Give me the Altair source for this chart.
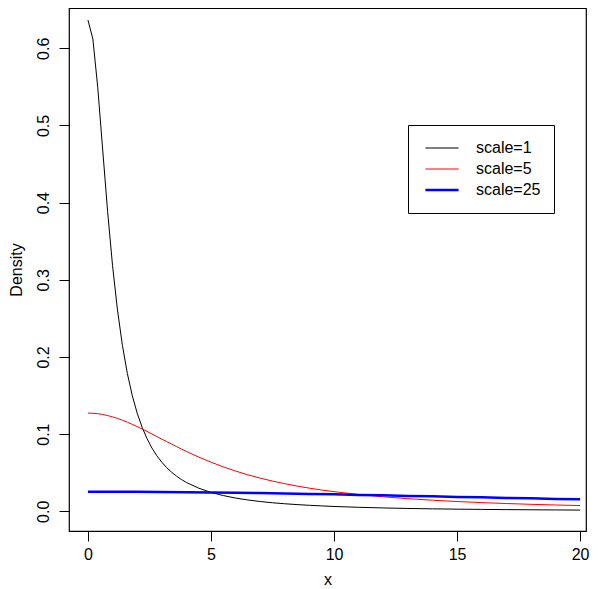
import altair as alt
import pandas as pd

# x positions
x_fine = [0, 0.2, 0.4, 0.6, 0.8, 1.0, 1.2, 1.4, 1.6, 1.8, 2.0, 2.2, 2.4, 2.6, 2.8,
          3.0, 3.2, 3.4, 3.6, 3.8, 4.0, 4.5, 5, 5.5, 6, 6.5, 7, 7.5, 8, 8.5, 9,
          9.5, 10, 11, 12, 13, 14, 15, 16, 17, 18, 19, 20]
scale1 = [0.6366, 0.6121, 0.5488, 0.4681, 0.3882, 0.3183, 0.2609, 0.2151, 0.1788,
          0.1501, 0.1273, 0.1090, 0.0942, 0.0820, 0.0720, 0.0637, 0.0566, 0.0507,
          0.0456, 0.0412, 0.0374, 0.0300, 0.0245, 0.0204, 0.0172, 0.0147, 0.0127,
          0.0111, 0.0098, 0.0087, 0.0078, 0.0070, 0.0063, 0.0052, 0.0044, 0.0037,
          0.0032, 0.0028, 0.0025, 0.0022, 0.0020, 0.0018, 0.0016]
scale5 = [0.1273, 0.1271, 0.1265, 0.1255, 0.1241, 0.1224, 0.1204, 0.1181, 0.1155,
          0.1127, 0.1098, 0.1067, 0.1035, 0.1002, 0.0969, 0.0936, 0.0903, 0.0871,
          0.0839, 0.0807, 0.0776, 0.0703, 0.0637, 0.0576, 0.0522, 0.0473, 0.0430,
          0.0392, 0.0358, 0.0327, 0.0300, 0.0276, 0.0255, 0.0218, 0.0188, 0.0164,
          0.0144, 0.0127, 0.0113, 0.0101, 0.0091, 0.0082, 0.0075]
x_coarse = [0, 1, 2, 3, 4, 5, 6, 7, 8, 9, 10, 11, 12, 13, 14, 15, 16, 17, 18, 19, 20]
scale25 = [0.0255, 0.0254, 0.0253, 0.0251, 0.0248, 0.0245, 0.0241, 0.0236, 0.0231,
           0.0225, 0.0220, 0.0213, 0.0207, 0.0200, 0.0194, 0.0187, 0.0181, 0.0174,
           0.0168, 0.0161, 0.0155]

series_names = ["scale=1", "scale=5", "scale=25"]
series_colors = ["black", "red", "blue"]
series_widths = [1, 1, 2.5]

rows = []
for xv, yv in zip(x_fine, scale1):
    rows.append({"x": xv, "y": yv, "series": "scale=1"})
for xv, yv in zip(x_fine, scale5):
    rows.append({"x": xv, "y": yv, "series": "scale=5"})
for xv, yv in zip(x_coarse, scale25):
    rows.append({"x": xv, "y": yv, "series": "scale=25"})
df = pd.DataFrame(rows)

FONT = "Liberation Sans"

legend_props = dict(
    title=None, orient="none", legendX=339, legendY=117,
    symbolType="stroke", symbolSize=1100, clipHeight=20, labelFontSize=16, labelFont=FONT,
    labelColor="black", strokeColor="black", padding=13, rowPadding=1,
    labelOffset=16, symbolOffset=3, symbolOpacity=1,
)

chart = alt.Chart(df).mark_line(clip=True).encode(
    x=alt.X("x:Q", title="x",
            scale=alt.Scale(domain=[-0.77, 20.24], nice=False, zero=False),
            axis=alt.Axis(values=[0, 5, 10, 15, 20], format="d", labelPadding=5,
                          titlePadding=9)),
    y=alt.Y("y:Q", title="Density",
            scale=alt.Scale(domain=[-0.0255, 0.6522], nice=False, zero=False),
            axis=alt.Axis(values=[0, 0.1, 0.2, 0.3, 0.4, 0.5, 0.6], format=".1f",
                          labelAngle=-90, labelAlign="center", labelBaseline="bottom",
                          labelPadding=8, titlePadding=11)),
    color=alt.Color("series:N", scale=alt.Scale(domain=series_names, range=series_colors),
                    legend=alt.Legend(**legend_props)),
    strokeWidth=alt.StrokeWidth("series:N",
                                scale=alt.Scale(type="ordinal", domain=series_names, range=series_widths),
                                legend=alt.Legend(**legend_props)),
    detail="series:N",
).properties(
    width=517, height=523,
    autosize=alt.AutoSizeParams(type="none"),
    padding={"left": 61, "top": 0, "right": 5, "bottom": 58},
).configure_view(
    stroke="black", strokeWidth=1.2
).configure_axis(
    grid=False, domain=False, tickColor="black", tickSize=10, tickWidth=1,
    labelFont=FONT, labelFontSize=16, labelColor="black",
    titleFont=FONT, titleFontSize=16, titleFontWeight="normal", titleColor="black",
)

chart.save("out.html", embed_options={"renderer": "svg", "actions": False})
